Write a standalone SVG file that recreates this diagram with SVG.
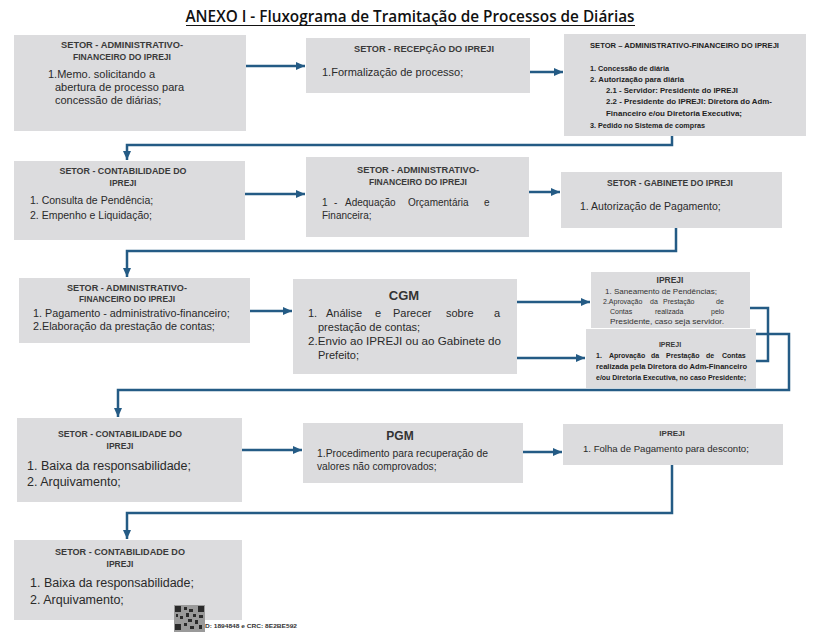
<svg xmlns="http://www.w3.org/2000/svg" width="819" height="632" viewBox="0 0 819 632">
<style>
.box{fill:#dcdcde}
.hd{font-family:"Liberation Sans",Arial,sans-serif;font-weight:bold;font-size:8.5px;fill:#3a3a3a;text-anchor:middle}
.bd{font-family:"Liberation Sans",Arial,sans-serif;font-size:11px;fill:#2a2a2a}
.cb{font-family:"Liberation Sans",Arial,sans-serif;font-weight:bold;font-size:7.5px;fill:#222}
.sm{font-family:"Liberation Sans",Arial,sans-serif;font-size:7px;fill:#333}
.ln{fill:none;stroke:#245b85;stroke-width:2.5}
.ar{marker-end:url(#ah)}
</style>
<defs>
<marker id="ah" markerWidth="4" markerHeight="4" refX="3.6" refY="2" orient="auto" markerUnits="strokeWidth">
<path d="M0,0.4 L3.6,2 L0,3.6 z" fill="#245b85"/>
</marker>
</defs>
<rect width="819" height="632" fill="#ffffff"/>

<g id="title">
<text x="410" y="22" font-family="'Open Sans',sans-serif" font-weight="600" font-size="15.5" text-anchor="middle" textLength="449" lengthAdjust="spacingAndGlyphs" fill="#111">ANEXO I - Fluxograma de Tramitação de Processos de Diárias</text>
<line x1="186" y1="25.5" x2="635" y2="25.5" stroke="#111" stroke-width="1"/>
</g>

<g id="connectors">
<path class="ln ar" d="M246,66 H305"/>
<path class="ln ar" d="M530,72 H563"/>
<path class="ln ar" d="M672,136 V145 H127 V160"/>
<path class="ln ar" d="M245,194 H305"/>
<path class="ln ar" d="M529,192 H560"/>
<path class="ln ar" d="M676,228 V251 H127 V277"/>
<path class="ln ar" d="M250,311 H292"/>
<path class="ln ar" d="M517,302 H590"/>
<path class="ln ar" d="M517,358 H585"/>
<path class="ln" d="M750,308 H768 V361 H756"/>
<path class="ln ar" d="M756,334 H789 V390 H118 V417"/>
<path class="ln ar" d="M242,450 H302"/>
<path class="ln ar" d="M523,452 H562"/>
<path class="ln ar" d="M672,465 V513 H127 V539"/>
</g>

<g id="n1">
<rect class="box" x="14" y="35" width="232" height="96"/>
<text class="hd" x="122" y="48" textLength="122" lengthAdjust="spacingAndGlyphs">SETOR - ADMINISTRATIVO-</text>
<text class="hd" x="122" y="60" textLength="98" lengthAdjust="spacingAndGlyphs">FINANCEIRO  DO IPREJI</text>
<text class="bd" x="48" y="78">1.Memo. solicitando a</text>
<text class="bd" x="55" y="91">abertura de processo para</text>
<text class="bd" x="55" y="104">concessão de diárias;</text>
</g>

<g id="n2">
<rect class="box" x="306" y="38" width="224" height="55"/>
<text class="hd" x="424" y="52" style="font-size:9.5px" textLength="140" lengthAdjust="spacingAndGlyphs">SETOR - RECEPÇÃO  DO IPREJI</text>
<text class="bd" x="322" y="76">1.Formalização de processo;</text>
</g>

<g id="n3">
<rect class="box" x="564" y="34" width="242" height="102"/>
<text class="cb" x="590" y="48" textLength="189" lengthAdjust="spacingAndGlyphs">SETOR – ADMINISTRATIVO-FINANCEIRO DO IPREJI</text>
<text class="cb" x="590" y="71" textLength="79" lengthAdjust="spacingAndGlyphs">1. Concessão de diária</text>
<text class="cb" x="590" y="82" textLength="94" lengthAdjust="spacingAndGlyphs">2. Autorização para diária</text>
<text class="cb" x="606" y="93" textLength="132" lengthAdjust="spacingAndGlyphs">2.1 - Servidor: Presidente do IPREJI</text>
<text class="cb" x="606" y="104" textLength="166" lengthAdjust="spacingAndGlyphs">2.2 - Presidente do IPREJI: Diretora do Adm-</text>
<text class="cb" x="606" y="116" textLength="136" lengthAdjust="spacingAndGlyphs">Financeiro e/ou Diretoria Executiva;</text>
<text class="cb" x="590" y="128" textLength="115" lengthAdjust="spacingAndGlyphs">3. Pedido no Sistema de compras</text>
</g>

<g id="n4">
<rect class="box" x="14" y="161" width="231" height="79"/>
<text class="hd" x="123" y="174" textLength="127" lengthAdjust="spacingAndGlyphs">SETOR - CONTABILIDADE  DO</text>
<text class="hd" x="123" y="186">IPREJI</text>
<text class="bd" x="30" y="204" style="font-size:10.5px">1. Consulta de Pendência;</text>
<text class="bd" x="30" y="219" style="font-size:10.5px">2. Empenho e Liquidação;</text>
</g>

<g id="n5">
<rect class="box" x="306" y="157" width="223" height="80"/>
<text class="hd" x="418" y="173" textLength="122" lengthAdjust="spacingAndGlyphs">SETOR - ADMINISTRATIVO-</text>
<text class="hd" x="418" y="185" textLength="98" lengthAdjust="spacingAndGlyphs">FINANCEIRO  DO IPREJI</text>
<text class="bd" y="206" style="font-size:10px"><tspan x="322">1</tspan> <tspan x="334">-</tspan> <tspan x="345">Adequação</tspan> <tspan x="408">Orçamentária</tspan> <tspan x="484">e</tspan></text>
<text class="bd" x="322" y="219" style="font-size:10px">Financeira;</text>
</g>

<g id="n6">
<rect class="box" x="561" y="172" width="221" height="56"/>
<text class="hd" x="670" y="186" textLength="126" lengthAdjust="spacingAndGlyphs">SETOR - GABINETE DO IPREJI</text>
<text class="bd" x="580" y="210" style="font-size:10.5px">1. Autorização de Pagamento;</text>
</g>

<g id="n7">
<rect class="box" x="19" y="278" width="231" height="65"/>
<text class="hd" x="127" y="291" textLength="120" lengthAdjust="spacingAndGlyphs">SETOR - ADMINISTRATIVO-</text>
<text class="hd" x="127" y="302" textLength="96" lengthAdjust="spacingAndGlyphs">FINANCEIRO  DO IPREJI</text>
<text class="bd" x="33" y="317" style="font-size:10.8px">1. Pagamento - administrativo-financeiro;</text>
<text class="bd" x="33" y="330" style="font-size:10.8px">2.Elaboração da prestação de contas;</text>
</g>

<g id="n8">
<rect class="box" x="293" y="279" width="224" height="95"/>
<text class="hd" x="404" y="300" style="font-size:13px;fill:#333">CGM</text>
<text class="bd" y="317"><tspan x="308">1.</tspan> <tspan x="326">Análise</tspan> <tspan x="375">e</tspan> <tspan x="393">Parecer</tspan> <tspan x="446">sobre</tspan> <tspan x="494">a</tspan></text>
<text class="bd" x="318" y="331">prestação de contas;</text>
<text class="bd" x="308" y="345" textLength="193" lengthAdjust="spacingAndGlyphs">2.Envio ao IPREJI ou ao Gabinete do</text>
<text class="bd" x="318" y="359">Prefeito;</text>
</g>

<g id="n9">
<rect class="box" x="591" y="272" width="159" height="56"/>
<text class="hd" x="670" y="283" style="font-size:8.5px">IPREJI</text>
<text class="sm" x="605" y="294" textLength="112" lengthAdjust="spacingAndGlyphs">1. Saneamento de Pendências;</text>
<text class="sm" y="304"><tspan x="603">2.Aprovação</tspan> <tspan x="650">da</tspan> <tspan x="663">Prestação</tspan> <tspan x="716">de</tspan></text>
<text class="sm" y="314"><tspan x="610">Contas</tspan> <tspan x="655">realizada</tspan> <tspan x="711">pelo</tspan></text>
<text class="sm" x="610" y="324" textLength="114" lengthAdjust="spacingAndGlyphs">Presidente, caso seja servidor.</text>
</g>

<g id="n10">
<rect class="box" x="586" y="329" width="170" height="59"/>
<text class="hd" x="670" y="347" style="font-size:7px">IPREJI</text>
<text class="cb" y="358" style="font-size:7px"><tspan x="596">1.</tspan> <tspan x="609">Aprovação</tspan> <tspan x="651">da</tspan> <tspan x="666">Prestação</tspan> <tspan x="706">de</tspan> <tspan x="722">Contas</tspan></text>
<text class="cb" x="596" y="369" style="font-size:7px" textLength="151" lengthAdjust="spacingAndGlyphs">realizada pela Diretora do Adm-Financeiro</text>
<text class="cb" x="596" y="380" style="font-size:7px" textLength="150" lengthAdjust="spacingAndGlyphs">e/ou Diretoria Executiva, no caso Presidente;</text>
</g>

<g id="n11">
<rect class="box" x="17" y="418" width="225" height="84"/>
<text class="hd" x="120" y="437" textLength="124" lengthAdjust="spacingAndGlyphs">SETOR - CONTABILIDADE  DO</text>
<text class="hd" x="120" y="449">IPREJI</text>
<text class="bd" x="27" y="470" style="font-size:12.5px">1. Baixa da responsabilidade;</text>
<text class="bd" x="27" y="486" style="font-size:12.5px">2. Arquivamento;</text>
</g>

<g id="n12">
<rect class="box" x="303" y="423" width="220" height="60"/>
<text class="hd" x="400" y="440" style="font-size:12px;fill:#333">PGM</text>
<text class="bd" x="317" y="457" style="font-size:10.2px" textLength="171" lengthAdjust="spacingAndGlyphs">1.Procedimento para recuperação de</text>
<text class="bd" x="317" y="470" style="font-size:10.2px">valores não comprovados;</text>
</g>

<g id="n13">
<rect class="box" x="563" y="424" width="220" height="41"/>
<text class="hd" x="672" y="436" style="font-size:8px">IPREJI</text>
<text class="bd" x="583" y="452" style="font-size:9.6px">1. Folha de Pagamento para desconto;</text>
</g>

<g id="n14">
<rect class="box" x="14" y="540" width="228" height="80"/>
<text class="hd" x="120" y="555" textLength="130" lengthAdjust="spacingAndGlyphs">SETOR - CONTABILIDADE  DO</text>
<text class="hd" x="120" y="567">IPREJI</text>
<text class="bd" x="30" y="587" style="font-size:12.5px">1. Baixa da responsabilidade;</text>
<text class="bd" x="30" y="604" style="font-size:12.5px">2. Arquivamento;</text>
</g>

<g id="stamp">
<rect x="174" y="605" width="31" height="27" fill="#9a9a9a"/>
<g fill="#2a2a2a">
<rect x="175" y="606" width="6" height="6"/><rect x="198" y="606" width="6" height="6"/><rect x="175" y="624" width="6" height="6"/>
<rect x="184" y="607" width="3" height="3"/><rect x="189" y="609" width="4" height="3"/><rect x="186" y="613" width="3" height="4"/>
<rect x="193" y="614" width="3" height="3"/><rect x="199" y="615" width="4" height="3"/><rect x="180" y="616" width="3" height="3"/>
<rect x="188" y="619" width="4" height="3"/><rect x="195" y="620" width="3" height="4"/><rect x="184" y="623" width="3" height="3"/>
<rect x="190" y="626" width="4" height="3"/><rect x="199" y="625" width="3" height="4"/><rect x="176" y="614" width="2" height="3"/>
</g>
<text x="205" y="628" font-family="'Liberation Sans',Arial,sans-serif" font-weight="bold" font-size="6" fill="#333" textLength="92" lengthAdjust="spacingAndGlyphs">D: 1894848 e CRC: 8E2BE592</text>
</g>
</svg>
